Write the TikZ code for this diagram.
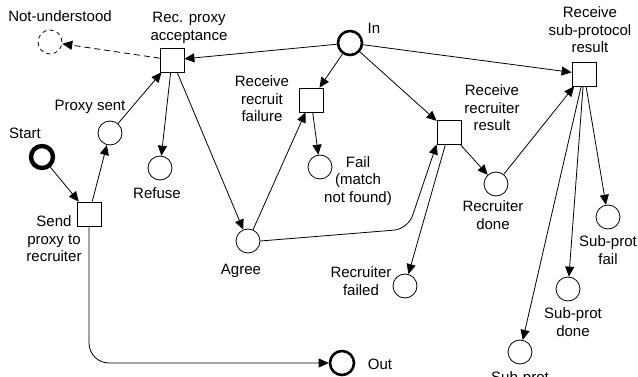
\documentclass[tikz,border=0pt]{standalone}
\usepackage{fontspec}
\setmainfont{Liberation Sans}
\usetikzlibrary{arrows.meta}
\tikzset{
  placenode/.style={draw,circle,minimum size=24pt,inner sep=0pt,line width=0.8pt},
  portnode/.style={placenode,line width=2.6pt,minimum size=24pt},
  startnode/.style={placenode,line width=4.4pt,minimum size=22pt},
  ghostnode/.style={placenode,dash pattern=on 4pt off 3.5pt},
  transbox/.style={draw,minimum size=24pt,inner sep=0pt,line width=0.8pt},
  lbl/.style={align=center,inner sep=0pt,font=\fontsize{15}{17.5}\selectfont},
  netarrow/.style={-{Triangle[length=10pt,width=9pt]},line width=0.8pt},
  ghostarrow/.style={netarrow,dash pattern=on 6pt off 4pt}
}
\begin{document}
\begin{tikzpicture}[x=1pt,y=-1pt]
\useasboundingbox (0,0) rectangle (638,377);
% places and transitions
\node[startnode] (start) at (42,157) {};
\node[transbox] (send) at (89,214) {};
\node[placenode] (psent) at (110,133) {};
\node[transbox] (recproxy) at (172,60) {};
\node[ghostnode] (notund) at (50,42) {};
\node[placenode] (refuse) at (160,168) {};
\node[placenode] (agree) at (248,241) {};
\node[portnode] (in) at (350,43) {};
\node[portnode] (out) at (342,363) {};
\node[transbox] (recfail) at (311,100) {};
\node[placenode] (fail) at (320,167) {};
\node[transbox] (recres) at (449,132) {};
\node[placenode] (rdone) at (496,184) {};
\node[placenode] (rfailed) at (405,286) {};
\node[transbox] (recsub) at (584,74) {};
\node[placenode] (spfail) at (608,217) {};
\node[placenode] (spdone) at (568,289) {};
\node[placenode] (spother) at (520,352) {};
\coordinate (bend) at (408,229);
% labels
\node[lbl] (l-notund) at (60,16) {Not-understood};
\node[lbl] (l-recproxy) at (189,28) {Rec. proxy\\acceptance};
\node[lbl] (l-in) at (374,28) {In};
\node[lbl] (l-recfail) at (262,99) {Receive\\recruit\\failure};
\node[lbl] (l-fail) at (358,181) {Fail\\(match\\not found)};
\node[lbl] (l-recres) at (492,108) {Receive\\recruiter\\result};
\node[lbl] (l-recsub) at (590,30) {Receive\\sub-protocol\\result};
\node[lbl] (l-refuse) at (157,193) {Refuse};
\node[lbl] (l-psent) at (90,107) {Proxy sent};
\node[lbl] (l-start) at (25,133) {Start};
\node[lbl] (l-send) at (54,239) {Send\\proxy to\\recruiter};
\node[lbl] (l-agree) at (241,271) {Agree};
\node[lbl] (l-out) at (380,364) {Out};
\node[lbl] (l-rfailed) at (361,281) {Recruiter\\failed};
\node[lbl] (l-rdone) at (493,215) {Recruiter\\done};
\node[lbl] (l-spfail) at (608,250) {Sub-prot\\fail};
\node[lbl] (l-spdone) at (573,322) {Sub-prot\\done};
\node[lbl] (l-spother) at (520,379) {Sub-prot};
% arcs
\draw[netarrow] (start) -- (send);
\draw[netarrow] (send) -- (psent);
\draw[netarrow] (psent) -- (recproxy);
\draw[ghostarrow] (recproxy) -- (notund);
\draw[netarrow] (in) -- (recproxy);
\draw[netarrow] (recproxy) -- (refuse);
\draw[netarrow] (recproxy) -- (agree);
\draw[netarrow] (agree) -- (recfail);
\draw[netarrow,rounded corners=14pt] (agree.east) -- (bend) -- (recres.south west);
\draw[netarrow] (in) -- (recfail);
\draw[netarrow] (in) -- (recres);
\draw[netarrow] (in) -- (recsub);
\draw[netarrow] (recfail) -- (fail);
\draw[netarrow] (recres) -- (rdone);
\draw[netarrow] (recres) -- (rfailed);
\draw[netarrow] (rdone) -- (recsub);
\draw[netarrow] (recsub) -- (spfail);
\draw[netarrow] (recsub) -- (spdone);
\draw[netarrow] (recsub) -- (spother);
\draw[netarrow,rounded corners=20pt] (send.south) |- (out.west);
\end{tikzpicture}
\end{document}
